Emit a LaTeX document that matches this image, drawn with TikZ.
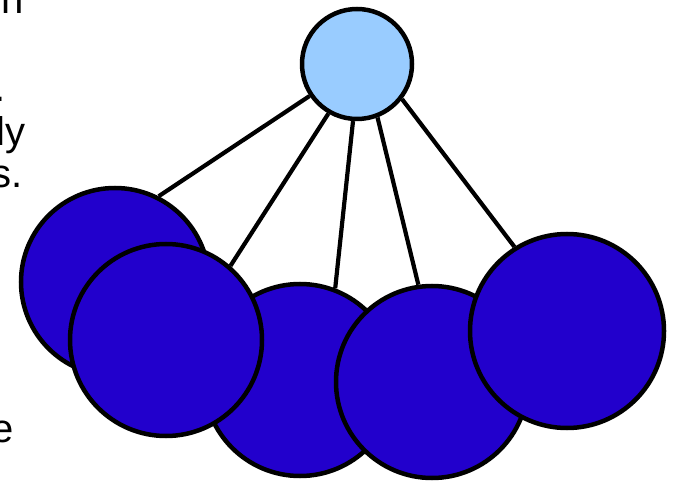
\documentclass[tikz,border=0pt]{standalone}
\usepackage{fontspec}
\setmainfont{Liberation Sans}
\usepackage{xcolor}
\definecolor{ballblue}{HTML}{2200CC}
\definecolor{topblue}{HTML}{99CCFF}

\begin{document}
\begin{tikzpicture}[x=1pt, y=1pt,
  ball/.style={circle, draw=black, line width=4.5pt, inner sep=0pt, fill=ballblue},
  link/.style={black, line width=4.2pt},
  stub/.style={font=\fontsize{40}{44}\selectfont, inner sep=0pt}]

  \useasboundingbox (0,0) rectangle (676,482);
  \clip (0,0) rectangle (676,482);

  % Text cut off at the left edge
  \node[stub, anchor=base west] (txtn) at (1,468) {n};
  \node[stub, anchor=base east] (txtdot) at (6,380) {.};
  \node[stub, anchor=base east] (txtly) at (26,336) {ly};
  \node[stub, anchor=base east] (txts) at (23,294) {s.};
  \node[stub, anchor=base east] (txte) at (14,40) {e};

  % Top sphere
  \node[ball, fill=topblue, minimum size=110pt] (top) at (357,418) {};

  % Lower spheres, back to front
  \node[ball, minimum size=188pt] (left) at (115,200) {};
  \node[ball, minimum size=192pt] (mid) at (300,102) {};
  \node[ball, minimum size=192pt] (front) at (166,142) {};
  \node[ball, minimum size=192pt] (midr) at (432,100) {};
  \node[ball, minimum size=194pt] (right) at (567,151) {};

  % Links from the top sphere
  \draw[link] (top.214) -- (left.63);
  \draw[link] (top.240) -- (front.49);
  \draw[link] (top.266) -- (mid.69);
  \draw[link] (top.291) -- (midr.98);
  \draw[link] (top.322) -- (right.122);

\end{tikzpicture}
\end{document}
